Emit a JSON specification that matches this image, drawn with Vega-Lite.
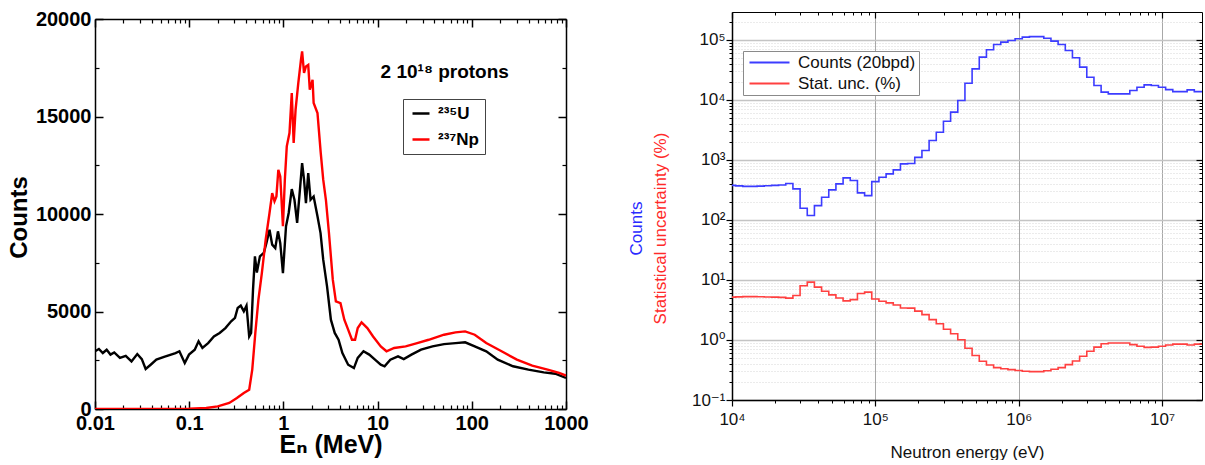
{
  "$schema": "https://vega.github.io/schema/vega-lite/v6.json",
  "background": "white",
  "padding": {"left": 7, "top": 9, "right": 0, "bottom": 0},
  "spacing": 38,
  "align": "none",
  "config": {"view": {"stroke": null}, "font": "Liberation Sans"},
  "resolve": {"scale": {"color": "independent"}, "legend": {"color": "independent"}},
  "datasets": {
    "left": [
      {"E": 0.01, "Counts": 2960, "isotope": "²³⁵U"},
      {"E": 0.011, "Counts": 3080, "isotope": "²³⁵U"},
      {"E": 0.0121, "Counts": 2870, "isotope": "²³⁵U"},
      {"E": 0.0133, "Counts": 3040, "isotope": "²³⁵U"},
      {"E": 0.0146, "Counts": 2790, "isotope": "²³⁵U"},
      {"E": 0.016, "Counts": 2900, "isotope": "²³⁵U"},
      {"E": 0.0184, "Counts": 2620, "isotope": "²³⁵U"},
      {"E": 0.0212, "Counts": 2720, "isotope": "²³⁵U"},
      {"E": 0.0244, "Counts": 2440, "isotope": "²³⁵U"},
      {"E": 0.0281, "Counts": 2820, "isotope": "²³⁵U"},
      {"E": 0.0314, "Counts": 2560, "isotope": "²³⁵U"},
      {"E": 0.0345, "Counts": 2050, "isotope": "²³⁵U"},
      {"E": 0.039, "Counts": 2270, "isotope": "²³⁵U"},
      {"E": 0.0448, "Counts": 2530, "isotope": "²³⁵U"},
      {"E": 0.0541, "Counts": 2670, "isotope": "²³⁵U"},
      {"E": 0.0716, "Counts": 2870, "isotope": "²³⁵U"},
      {"E": 0.0787, "Counts": 2960, "isotope": "²³⁵U"},
      {"E": 0.0897, "Counts": 2360, "isotope": "²³⁵U"},
      {"E": 0.0995, "Counts": 2790, "isotope": "²³⁵U"},
      {"E": 0.1145, "Counts": 3040, "isotope": "²³⁵U"},
      {"E": 0.1257, "Counts": 3470, "isotope": "²³⁵U"},
      {"E": 0.1381, "Counts": 3130, "isotope": "²³⁵U"},
      {"E": 0.1589, "Counts": 3380, "isotope": "²³⁵U"},
      {"E": 0.1829, "Counts": 3720, "isotope": "²³⁵U"},
      {"E": 0.2105, "Counts": 3900, "isotope": "²³⁵U"},
      {"E": 0.2423, "Counts": 4150, "isotope": "²³⁵U"},
      {"E": 0.2789, "Counts": 4500, "isotope": "²³⁵U"},
      {"E": 0.3063, "Counts": 4670, "isotope": "²³⁵U"},
      {"E": 0.3271, "Counts": 5180, "isotope": "²³⁵U"},
      {"E": 0.3526, "Counts": 5300, "isotope": "²³⁵U"},
      {"E": 0.38, "Counts": 5010, "isotope": "²³⁵U"},
      {"E": 0.4058, "Counts": 5300, "isotope": "²³⁵U"},
      {"E": 0.4334, "Counts": 3720, "isotope": "²³⁵U"},
      {"E": 0.4541, "Counts": 3900, "isotope": "²³⁵U"},
      {"E": 0.4759, "Counts": 6120, "isotope": "²³⁵U"},
      {"E": 0.4987, "Counts": 7830, "isotope": "²³⁵U"},
      {"E": 0.5226, "Counts": 7000, "isotope": "²³⁵U"},
      {"E": 0.5633, "Counts": 7830, "isotope": "²³⁵U"},
      {"E": 0.6187, "Counts": 8000, "isotope": "²³⁵U"},
      {"E": 0.6607, "Counts": 8510, "isotope": "²³⁵U"},
      {"E": 0.7122, "Counts": 9190, "isotope": "²³⁵U"},
      {"E": 0.7604, "Counts": 8430, "isotope": "²³⁵U"},
      {"E": 0.8199, "Counts": 8250, "isotope": "²³⁵U"},
      {"E": 0.8754, "Counts": 9110, "isotope": "²³⁵U"},
      {"E": 0.9261, "Counts": 8510, "isotope": "²³⁵U"},
      {"E": 0.9888, "Counts": 6970, "isotope": "²³⁵U"},
      {"E": 1.066, "Counts": 9370, "isotope": "²³⁵U"},
      {"E": 1.138, "Counts": 10050, "isotope": "²³⁵U"},
      {"E": 1.227, "Counts": 11280, "isotope": "²³⁵U"},
      {"E": 1.31, "Counts": 10730, "isotope": "²³⁵U"},
      {"E": 1.399, "Counts": 9540, "isotope": "²³⁵U"},
      {"E": 1.508, "Counts": 11420, "isotope": "²³⁵U"},
      {"E": 1.58, "Counts": 12610, "isotope": "²³⁵U"},
      {"E": 1.656, "Counts": 11760, "isotope": "²³⁵U"},
      {"E": 1.735, "Counts": 10560, "isotope": "²³⁵U"},
      {"E": 1.835, "Counts": 12100, "isotope": "²³⁵U"},
      {"E": 1.942, "Counts": 10730, "isotope": "²³⁵U"},
      {"E": 2.094, "Counts": 10900, "isotope": "²³⁵U"},
      {"E": 2.3, "Counts": 9880, "isotope": "²³⁵U"},
      {"E": 2.479, "Counts": 9020, "isotope": "²³⁵U"},
      {"E": 2.647, "Counts": 7660, "isotope": "²³⁵U"},
      {"E": 2.906, "Counts": 6290, "isotope": "²³⁵U"},
      {"E": 3.192, "Counts": 4580, "isotope": "²³⁵U"},
      {"E": 3.506, "Counts": 3900, "isotope": "²³⁵U"},
      {"E": 3.85, "Counts": 3550, "isotope": "²³⁵U"},
      {"E": 4.23, "Counts": 2870, "isotope": "²³⁵U"},
      {"E": 4.868, "Counts": 2270, "isotope": "²³⁵U"},
      {"E": 5.603, "Counts": 2100, "isotope": "²³⁵U"},
      {"E": 6.153, "Counts": 2620, "isotope": "²³⁵U"},
      {"E": 7.083, "Counts": 2960, "isotope": "²³⁵U"},
      {"E": 8.15, "Counts": 2790, "isotope": "²³⁵U"},
      {"E": 9.383, "Counts": 2530, "isotope": "²³⁵U"},
      {"E": 10.8, "Counts": 2270, "isotope": "²³⁵U"},
      {"E": 11.86, "Counts": 2190, "isotope": "²³⁵U"},
      {"E": 13.65, "Counts": 2530, "isotope": "²³⁵U"},
      {"E": 16.47, "Counts": 2700, "isotope": "²³⁵U"},
      {"E": 18.95, "Counts": 2560, "isotope": "²³⁵U"},
      {"E": 22.87, "Counts": 2790, "isotope": "²³⁵U"},
      {"E": 28.91, "Counts": 3040, "isotope": "²³⁵U"},
      {"E": 38.29, "Counts": 3210, "isotope": "²³⁵U"},
      {"E": 50.72, "Counts": 3330, "isotope": "²³⁵U"},
      {"E": 67.2, "Counts": 3380, "isotope": "²³⁵U"},
      {"E": 84.97, "Counts": 3420, "isotope": "²³⁵U"},
      {"E": 107.4, "Counts": 3210, "isotope": "²³⁵U"},
      {"E": 142.3, "Counts": 2960, "isotope": "²³⁵U"},
      {"E": 188.5, "Counts": 2530, "isotope": "²³⁵U"},
      {"E": 274.3, "Counts": 2190, "isotope": "²³⁵U"},
      {"E": 399, "Counts": 2020, "isotope": "²³⁵U"},
      {"E": 580.4, "Counts": 1880, "isotope": "²³⁵U"},
      {"E": 769.1, "Counts": 1810, "isotope": "²³⁵U"},
      {"E": 1000, "Counts": 1590, "isotope": "²³⁵U"},
      {"E": 0.01, "Counts": 0, "isotope": "²³⁷Np"},
      {"E": 0.02, "Counts": 0, "isotope": "²³⁷Np"},
      {"E": 0.04, "Counts": 3, "isotope": "²³⁷Np"},
      {"E": 0.07, "Counts": 8, "isotope": "²³⁷Np"},
      {"E": 0.1, "Counts": 18, "isotope": "²³⁷Np"},
      {"E": 0.1517, "Counts": 50, "isotope": "²³⁷Np"},
      {"E": 0.2009, "Counts": 137, "isotope": "²³⁷Np"},
      {"E": 0.2662, "Counts": 310, "isotope": "²³⁷Np"},
      {"E": 0.3209, "Counts": 560, "isotope": "²³⁷Np"},
      {"E": 0.38, "Counts": 820, "isotope": "²³⁷Np"},
      {"E": 0.4334, "Counts": 990, "isotope": "²³⁷Np"},
      {"E": 0.467, "Counts": 2020, "isotope": "²³⁷Np"},
      {"E": 0.5035, "Counts": 3900, "isotope": "²³⁷Np"},
      {"E": 0.5427, "Counts": 5600, "isotope": "²³⁷Np"},
      {"E": 0.5905, "Counts": 6970, "isotope": "²³⁷Np"},
      {"E": 0.6485, "Counts": 8680, "isotope": "²³⁷Np"},
      {"E": 0.7122, "Counts": 10050, "isotope": "²³⁷Np"},
      {"E": 0.7604, "Counts": 11070, "isotope": "²³⁷Np"},
      {"E": 0.8046, "Counts": 10650, "isotope": "²³⁷Np"},
      {"E": 0.8432, "Counts": 10900, "isotope": "²³⁷Np"},
      {"E": 0.8835, "Counts": 12270, "isotope": "²³⁷Np"},
      {"E": 0.9261, "Counts": 11930, "isotope": "²³⁷Np"},
      {"E": 0.9888, "Counts": 9370, "isotope": "²³⁷Np"},
      {"E": 1.036, "Counts": 11760, "isotope": "²³⁷Np"},
      {"E": 1.086, "Counts": 13470, "isotope": "²³⁷Np"},
      {"E": 1.16, "Counts": 14150, "isotope": "²³⁷Np"},
      {"E": 1.227, "Counts": 16200, "isotope": "²³⁷Np"},
      {"E": 1.285, "Counts": 13640, "isotope": "²³⁷Np"},
      {"E": 1.347, "Counts": 15350, "isotope": "²³⁷Np"},
      {"E": 1.439, "Counts": 16710, "isotope": "²³⁷Np"},
      {"E": 1.537, "Counts": 17910, "isotope": "²³⁷Np"},
      {"E": 1.58, "Counts": 18340, "isotope": "²³⁷Np"},
      {"E": 1.656, "Counts": 17230, "isotope": "²³⁷Np"},
      {"E": 1.735, "Counts": 17570, "isotope": "²³⁷Np"},
      {"E": 1.835, "Counts": 17650, "isotope": "²³⁷Np"},
      {"E": 1.906, "Counts": 16370, "isotope": "²³⁷Np"},
      {"E": 2.04, "Counts": 16880, "isotope": "²³⁷Np"},
      {"E": 2.094, "Counts": 15690, "isotope": "²³⁷Np"},
      {"E": 2.3, "Counts": 15180, "isotope": "²³⁷Np"},
      {"E": 2.491, "Counts": 13130, "isotope": "²³⁷Np"},
      {"E": 2.647, "Counts": 11760, "isotope": "²³⁷Np"},
      {"E": 2.826, "Counts": 10730, "isotope": "²³⁷Np"},
      {"E": 3.046, "Counts": 9020, "isotope": "²³⁷Np"},
      {"E": 3.345, "Counts": 6630, "isotope": "²³⁷Np"},
      {"E": 3.606, "Counts": 5520, "isotope": "²³⁷Np"},
      {"E": 4.035, "Counts": 5430, "isotope": "²³⁷Np"},
      {"E": 4.433, "Counts": 4580, "isotope": "²³⁷Np"},
      {"E": 4.868, "Counts": 4070, "isotope": "²³⁷Np"},
      {"E": 5.346, "Counts": 3550, "isotope": "²³⁷Np"},
      {"E": 5.764, "Counts": 3550, "isotope": "²³⁷Np"},
      {"E": 6.153, "Counts": 4150, "isotope": "²³⁷Np"},
      {"E": 6.757, "Counts": 4440, "isotope": "²³⁷Np"},
      {"E": 7.781, "Counts": 4150, "isotope": "²³⁷Np"},
      {"E": 8.954, "Counts": 3720, "isotope": "²³⁷Np"},
      {"E": 10.8, "Counts": 3210, "isotope": "²³⁷Np"},
      {"E": 12.43, "Counts": 2960, "isotope": "²³⁷Np"},
      {"E": 14.99, "Counts": 3130, "isotope": "²³⁷Np"},
      {"E": 19.86, "Counts": 3210, "isotope": "²³⁷Np"},
      {"E": 26.32, "Counts": 3380, "isotope": "²³⁷Np"},
      {"E": 34.86, "Counts": 3550, "isotope": "²³⁷Np"},
      {"E": 50.72, "Counts": 3810, "isotope": "²³⁷Np"},
      {"E": 67.2, "Counts": 3930, "isotope": "²³⁷Np"},
      {"E": 84.97, "Counts": 3980, "isotope": "²³⁷Np"},
      {"E": 107.4, "Counts": 3810, "isotope": "²³⁷Np"},
      {"E": 142.3, "Counts": 3380, "isotope": "²³⁷Np"},
      {"E": 207, "Counts": 2960, "isotope": "²³⁷Np"},
      {"E": 301, "Counts": 2530, "isotope": "²³⁷Np"},
      {"E": 438, "Counts": 2220, "isotope": "²³⁷Np"},
      {"E": 638, "Counts": 2020, "isotope": "²³⁷Np"},
      {"E": 845, "Counts": 1850, "isotope": "²³⁷Np"},
      {"E": 1000, "Counts": 1710, "isotope": "²³⁷Np"}
    ],
    "note": [{"E": 51.6, "Counts": 17280, "label": "2 10¹⁸ protons"}],
    "counts": [
      {"E": 10000, "Counts": 375}, {"E": 11220, "Counts": 368}, {"E": 12589, "Counts": 362},
      {"E": 14125, "Counts": 362}, {"E": 15849, "Counts": 365}, {"E": 17783, "Counts": 370},
      {"E": 19953, "Counts": 375}, {"E": 22387, "Counts": 380}, {"E": 25119, "Counts": 404},
      {"E": 28184, "Counts": 329}, {"E": 31623, "Counts": 156}, {"E": 35481, "Counts": 118},
      {"E": 39811, "Counts": 173}, {"E": 44668, "Counts": 238}, {"E": 50119, "Counts": 316},
      {"E": 56234, "Counts": 398}, {"E": 63096, "Counts": 501}, {"E": 70795, "Counts": 452},
      {"E": 79433, "Counts": 282}, {"E": 89125, "Counts": 254}, {"E": 100000, "Counts": 434},
      {"E": 112202, "Counts": 513}, {"E": 125893, "Counts": 584}, {"E": 141254, "Counts": 681},
      {"E": 158489, "Counts": 858}, {"E": 177828, "Counts": 870}, {"E": 199526, "Counts": 1100},
      {"E": 223872, "Counts": 1430}, {"E": 251189, "Counts": 2100}, {"E": 281838, "Counts": 2880},
      {"E": 316228, "Counts": 4390}, {"E": 354813, "Counts": 6230}, {"E": 398107, "Counts": 9730},
      {"E": 446684, "Counts": 18900}, {"E": 501187, "Counts": 32800}, {"E": 562341, "Counts": 51300},
      {"E": 630957, "Counts": 68100}, {"E": 707946, "Counts": 83600}, {"E": 794328, "Counts": 91300},
      {"E": 891251, "Counts": 97300}, {"E": 1000000, "Counts": 103800}, {"E": 1122018, "Counts": 110700},
      {"E": 1258925, "Counts": 113000}, {"E": 1412538, "Counts": 113000}, {"E": 1584893, "Counts": 106000},
      {"E": 1778279, "Counts": 94900}, {"E": 1995262, "Counts": 83600}, {"E": 2238721, "Counts": 66400},
      {"E": 2511886, "Counts": 50100}, {"E": 2818383, "Counts": 35000}, {"E": 3162278, "Counts": 23800},
      {"E": 3548134, "Counts": 17300}, {"E": 3981072, "Counts": 13400}, {"E": 4466836, "Counts": 12570},
      {"E": 5011872, "Counts": 12570}, {"E": 5623413, "Counts": 12570}, {"E": 6309573, "Counts": 14300},
      {"E": 7079458, "Counts": 16200}, {"E": 7943282, "Counts": 17700}, {"E": 8912509, "Counts": 17300},
      {"E": 10000000, "Counts": 16200}, {"E": 11220185, "Counts": 14800}, {"E": 12589254, "Counts": 13700},
      {"E": 14125375, "Counts": 13700}, {"E": 15848932, "Counts": 14650}, {"E": 17782794, "Counts": 13700},
      {"E": 19952623, "Counts": 13700}
    ],
    "stat": [
      {"E": 10000, "Pct": 5.16}, {"E": 11220, "Pct": 5.21}, {"E": 12589, "Pct": 5.26},
      {"E": 14125, "Pct": 5.26}, {"E": 15849, "Pct": 5.23}, {"E": 17783, "Pct": 5.2},
      {"E": 19953, "Pct": 5.16}, {"E": 22387, "Pct": 5.13}, {"E": 25119, "Pct": 4.98},
      {"E": 28184, "Pct": 5.51}, {"E": 31623, "Pct": 8.0}, {"E": 35481, "Pct": 9.2},
      {"E": 39811, "Pct": 7.6}, {"E": 44668, "Pct": 6.48}, {"E": 50119, "Pct": 5.63},
      {"E": 56234, "Pct": 5.01}, {"E": 63096, "Pct": 4.47}, {"E": 70795, "Pct": 4.7},
      {"E": 79433, "Pct": 5.95}, {"E": 89125, "Pct": 6.27}, {"E": 100000, "Pct": 4.8},
      {"E": 112202, "Pct": 4.42}, {"E": 125893, "Pct": 4.14}, {"E": 141254, "Pct": 3.83},
      {"E": 158489, "Pct": 3.41}, {"E": 177828, "Pct": 3.39}, {"E": 199526, "Pct": 3.02},
      {"E": 223872, "Pct": 2.64}, {"E": 251189, "Pct": 2.18}, {"E": 281838, "Pct": 1.86},
      {"E": 316228, "Pct": 1.51}, {"E": 354813, "Pct": 1.27}, {"E": 398107, "Pct": 1.01},
      {"E": 446684, "Pct": 0.727}, {"E": 501187, "Pct": 0.552}, {"E": 562341, "Pct": 0.441},
      {"E": 630957, "Pct": 0.383}, {"E": 707946, "Pct": 0.346}, {"E": 794328, "Pct": 0.331},
      {"E": 891251, "Pct": 0.321}, {"E": 1000000, "Pct": 0.31}, {"E": 1122018, "Pct": 0.301},
      {"E": 1258925, "Pct": 0.297}, {"E": 1412538, "Pct": 0.297}, {"E": 1584893, "Pct": 0.307},
      {"E": 1778279, "Pct": 0.325}, {"E": 1995262, "Pct": 0.346}, {"E": 2238721, "Pct": 0.388},
      {"E": 2511886, "Pct": 0.447}, {"E": 2818383, "Pct": 0.535}, {"E": 3162278, "Pct": 0.648},
      {"E": 3548134, "Pct": 0.76}, {"E": 3981072, "Pct": 0.864}, {"E": 4466836, "Pct": 0.892},
      {"E": 5011872, "Pct": 0.892}, {"E": 5623413, "Pct": 0.892}, {"E": 6309573, "Pct": 0.836},
      {"E": 7079458, "Pct": 0.786}, {"E": 7943282, "Pct": 0.752}, {"E": 8912509, "Pct": 0.76},
      {"E": 10000000, "Pct": 0.786}, {"E": 11220185, "Pct": 0.822}, {"E": 12589254, "Pct": 0.854},
      {"E": 14125375, "Pct": 0.854}, {"E": 15848932, "Pct": 0.826}, {"E": 17782794, "Pct": 0.854},
      {"E": 19952623, "Pct": 0.854}
    ]
  },
  "hconcat": [
    {
      "width": 471,
      "height": 397,
      "layer": [
        {
          "data": {"name": "left"},
          "mark": {"type": "line", "strokeWidth": 2.4, "clip": true},
          "encoding": {
            "x": {"field": "E", "type": "quantitative",
              "scale": {"type": "log", "domain": [0.01, 1000], "nice": false},
              "axis": {"orient": "bottom", "values": [0.01, 0.1, 1, 10, 100, 1000], "format": "~g",
                "labelFlush": false, "labelOverlap": false, "grid": false,
                "domainColor": "#000", "domainWidth": 1.5, "tickColor": "#000", "tickWidth": 1.5, "tickSize": -8,
                "labelPadding": 12, "labelFont": "Liberation Sans", "labelFontWeight": "bold", "labelFontSize": 20, "labelColor": "#000",
                "title": "Eₙ (MeV)", "titleFont": "Liberation Sans, DejaVu Sans", "titleFontSize": 25, "titleFontWeight": "bold",
                "titleColor": "#000", "titlePadding": -1}},
            "y": {"field": "Counts", "type": "quantitative",
              "scale": {"domain": [0, 20000], "nice": false, "range": [397, 7]},
              "axis": {"orient": "left", "values": [0, 5000, 10000, 15000, 20000], "format": "d",
                "labelOverlap": false, "grid": false,
                "domainColor": "#000", "domainWidth": 1.5, "tickColor": "#000", "tickWidth": 1.5, "tickSize": -8,
                "labelPadding": 12, "labelFont": "Liberation Sans", "labelFontWeight": "bold", "labelFontSize": 20, "labelColor": "#000",
                "title": "Counts", "titleFont": "Liberation Sans", "titleFontSize": 24, "titleFontWeight": "bold",
                "titleColor": "#000", "titlePadding": 4, "titleY": 205}},
            "color": {"field": "isotope", "type": "nominal",
              "scale": {"domain": ["²³⁵U", "²³⁷Np"], "range": ["#000000", "#ff0000"]},
              "legend": {"orient": "none", "legendX": 308, "legendY": 87, "title": null,
                "fillColor": "#ffffff", "strokeColor": "#444444", "padding": 6,
                "symbolType": "M-1,0H2.4", "symbolSize": 100, "symbolStrokeWidth": 2.5,
                "labelFont": "Liberation Sans, DejaVu Sans", "labelFontWeight": "bold", "labelFontSize": 17,
                "labelColor": "#000", "labelOffset": 12, "rowPadding": 8}}
          }
        },
        {
          "data": {"name": "note"},
          "mark": {"type": "text", "font": "Liberation Sans, DejaVu Sans", "fontWeight": "bold", "fontSize": 19, "align": "center", "baseline": "middle", "color": "#000"},
          "encoding": {
            "x": {"field": "E", "type": "quantitative",
              "scale": {"type": "log", "domain": [0.01, 1000], "nice": false},
              "axis": {"orient": "top", "offset": -7, "values": [0.01, 0.1, 1, 10, 100, 1000], "labels": false, "title": null, "grid": false,
                "domainColor": "#000", "domainWidth": 1.5, "tickColor": "#000", "tickWidth": 1.5, "tickSize": -8}},
            "y": {"field": "Counts", "type": "quantitative",
              "scale": {"domain": [0, 20000], "nice": false, "range": [397, 7]},
              "axis": {"orient": "right", "values": [0, 5000, 10000, 15000, 20000], "labels": false, "title": null, "grid": false,
                "domainColor": "#000", "domainWidth": 1.5, "tickColor": "#000", "tickWidth": 1.5, "tickSize": -8}},
            "text": {"field": "label"}
          }
        },
        {
          "data": {"name": "left"},
          "mark": {"type": "line", "opacity": 0},
          "encoding": {
            "x": {"field": "E", "type": "quantitative",
              "scale": {"type": "log", "domain": [0.01, 1000], "nice": false},
              "axis": {"orient": "bottom", "values": [0.02,0.03,0.04,0.05,0.06,0.07,0.08,0.09,0.2,0.3,0.4,0.5,0.6,0.7,0.8,0.9,2,3,4,5,6,7,8,9,20,30,40,50,60,70,80,90,200,300,400,500,600,700,800,900],
                "labels": false, "title": null, "grid": false, "domain": false, "tickColor": "#000", "tickWidth": 1.2, "tickSize": -4}},
            "y": {"field": "Counts", "type": "quantitative",
              "scale": {"domain": [0, 20000], "nice": false, "range": [397, 7]},
              "axis": {"orient": "left", "values": [2500, 7500, 12500, 17500], "labels": false, "title": null, "grid": false,
                "domain": false, "tickColor": "#000", "tickWidth": 1.2, "tickSize": -4}}
          }
        },
        {
          "data": {"name": "left"},
          "mark": {"type": "line", "opacity": 0},
          "encoding": {
            "x": {"field": "E", "type": "quantitative",
              "scale": {"type": "log", "domain": [0.01, 1000], "nice": false},
              "axis": {"orient": "top", "offset": -7, "values": [0.02,0.03,0.04,0.05,0.06,0.07,0.08,0.09,0.2,0.3,0.4,0.5,0.6,0.7,0.8,0.9,2,3,4,5,6,7,8,9,20,30,40,50,60,70,80,90,200,300,400,500,600,700,800,900],
                "labels": false, "title": null, "grid": false, "domain": false, "tickColor": "#000", "tickWidth": 1.2, "tickSize": -4}},
            "y": {"field": "Counts", "type": "quantitative",
              "scale": {"domain": [0, 20000], "nice": false, "range": [397, 7]},
              "axis": {"orient": "right", "values": [2500, 7500, 12500, 17500], "labels": false, "title": null, "grid": false,
                "domain": false, "tickColor": "#000", "tickWidth": 1.2, "tickSize": -4}}
          }
        }
      ]
    },
    {
      "width": 470,
      "height": 388,
      "layer": [
        {
          "data": {"name": "stat"},
          "mark": {"type": "line", "interpolate": "step", "strokeWidth": 1.6, "clip": true},
          "encoding": {
            "x": {"field": "E", "type": "quantitative",
              "scale": {"type": "log", "domain": [10000, 19000000], "nice": false},
              "axis": {"orient": "bottom", "values": [10000, 100000, 1000000, 10000000],
                "labelExpr": "['10⁴','10⁵','10⁶','10⁷'][round(log(datum.value)/LN10)-4]",
                "labelFlush": false, "labelOverlap": false, "grid": true, "gridColor": "#a8a8a8", "gridWidth": 1,
                "domainColor": "#000", "domainWidth": 1.5, "tickColor": "#000", "tickWidth": 1.2, "tickSize": 6,
                "labelPadding": 5, "labelFont": "Liberation Sans, DejaVu Sans", "labelFontSize": 17, "labelColor": "#111",
                "title": "Neutron energy (eV)", "titleFont": "Liberation Sans", "titleFontSize": 17, "titleFontWeight": "normal",
                "titleColor": "#111", "titlePadding": 17}},
            "y": {"field": "Pct", "type": "quantitative",
              "scale": {"type": "log", "domain": [0.1, 290000], "nice": false},
              "axis": {"orient": "left", "values": [0.1, 1, 10, 100, 1000, 10000, 100000],
                "labelExpr": "['10⁻¹','10⁰','10¹','10²','10³','10⁴','10⁵'][round(log(datum.value)/LN10)+1]",
                "labelOverlap": false, "grid": true, "gridColor": "#c4c4c4", "gridWidth": 1.6,
                "domainColor": "#000", "domainWidth": 1.5, "tickColor": "#000", "tickWidth": 1.2, "tickSize": 6,
                "labelPadding": 1, "labelFont": "Liberation Sans, DejaVu Sans", "labelFontSize": 17, "labelColor": "#111",
                "title": "Statistical uncertainty (%)", "titleFont": "Liberation Sans", "titleFontSize": 17, "titleFontWeight": "normal",
                "titleColor": "#ff2a2a", "titlePadding": 22, "titleY": 216}},
            "color": {"datum": "Stat. unc. (%)",
              "scale": {"domain": ["Counts (20bpd)", "Stat. unc. (%)"], "range": ["#3c3cff", "#ff4040"]},
              "legend": {"orient": "none", "legendX": 11, "legendY": 39, "title": null,
                "fillColor": "#ffffff", "strokeColor": "#8a8a8a", "padding": 3,
                "symbolType": "M-1,0H7", "symbolSize": 100, "symbolStrokeWidth": 2,
                "labelFont": "Liberation Sans", "labelFontSize": 17, "labelColor": "#111", "labelOffset": 35, "rowPadding": 3}}
          }
        },
        {
          "data": {"name": "counts"},
          "mark": {"type": "line", "interpolate": "step", "strokeWidth": 1.6, "clip": true},
          "encoding": {
            "x": {"field": "E", "type": "quantitative",
              "scale": {"type": "log", "domain": [10000, 19000000], "nice": false},
              "axis": {"orient": "top", "values": [10000, 100000, 1000000, 10000000], "labels": false, "title": null, "grid": false,
                "domainColor": "#000", "domainWidth": 1, "tickColor": "#000", "tickWidth": 1.2, "tickSize": -6}},
            "y": {"field": "Counts", "type": "quantitative",
              "scale": {"type": "log", "domain": [0.1, 290000], "nice": false},
              "axis": {"orient": "right", "values": [0.1, 1, 10, 100, 1000, 10000, 100000], "labels": false, "title": null, "grid": false,
                "domainColor": "#000", "domainWidth": 1, "tickColor": "#000", "tickWidth": 1.2, "tickSize": -6}},
            "color": {"datum": "Counts (20bpd)",
              "scale": {"domain": ["Counts (20bpd)", "Stat. unc. (%)"], "range": ["#3c3cff", "#ff4040"]}}
          }
        },
        {
          "data": {"name": "counts"},
          "mark": {"type": "line", "opacity": 0},
          "encoding": {
            "x": {"field": "E", "type": "quantitative",
              "scale": {"type": "log", "domain": [10000, 19000000], "nice": false},
              "axis": {"orient": "bottom", "values": [20000,30000,40000,50000,60000,70000,80000,90000,200000,300000,400000,500000,600000,700000,800000,900000,2000000,3000000,4000000,5000000,6000000,7000000,8000000,9000000],
                "labels": false, "title": null, "grid": false, "domain": false, "tickColor": "#000", "tickWidth": 1, "tickSize": 3}},
            "y": {"field": "Counts", "type": "quantitative",
              "scale": {"type": "log", "domain": [0.1, 290000], "nice": false},
              "axis": {"orient": "left", "values": [0.2,0.3,0.4,0.5,0.6,0.7,0.8,0.9,2,3,4,5,6,7,8,9,20,30,40,50,60,70,80,90,200,300,400,500,600,700,800,900,2000,3000,4000,5000,6000,7000,8000,9000,20000,30000,40000,50000,60000,70000,80000,90000,200000],
                "labels": false, "grid": true, "gridColor": "#d6d6d6", "gridWidth": 1, "gridDash": [1, 2],
                "domain": false, "tickColor": "#000", "tickWidth": 1, "tickSize": 3,
                "title": "Counts", "titleFont": "Liberation Sans", "titleFontSize": 17, "titleFontWeight": "normal",
                "titleColor": "#2a2aff", "titlePadding": 83, "titleY": 216}}
          }
        },
        {
          "data": {"name": "counts"},
          "mark": {"type": "line", "opacity": 0},
          "encoding": {
            "x": {"field": "E", "type": "quantitative",
              "scale": {"type": "log", "domain": [10000, 19000000], "nice": false},
              "axis": {"orient": "top", "values": [20000,30000,40000,50000,60000,70000,80000,90000,200000,300000,400000,500000,600000,700000,800000,900000,2000000,3000000,4000000,5000000,6000000,7000000,8000000,9000000],
                "labels": false, "title": null, "grid": false, "domain": false, "tickColor": "#000", "tickWidth": 1, "tickSize": -3}},
            "y": {"field": "Counts", "type": "quantitative",
              "scale": {"type": "log", "domain": [0.1, 290000], "nice": false},
              "axis": {"orient": "right", "values": [0.2,0.3,0.4,0.5,0.6,0.7,0.8,0.9,2,3,4,5,6,7,8,9,20,30,40,50,60,70,80,90,200,300,400,500,600,700,800,900,2000,3000,4000,5000,6000,7000,8000,9000,20000,30000,40000,50000,60000,70000,80000,90000,200000],
                "labels": false, "title": null, "grid": false, "domain": false, "tickColor": "#000", "tickWidth": 1, "tickSize": -3}}
          }
        }
      ]
    }
  ]
}
